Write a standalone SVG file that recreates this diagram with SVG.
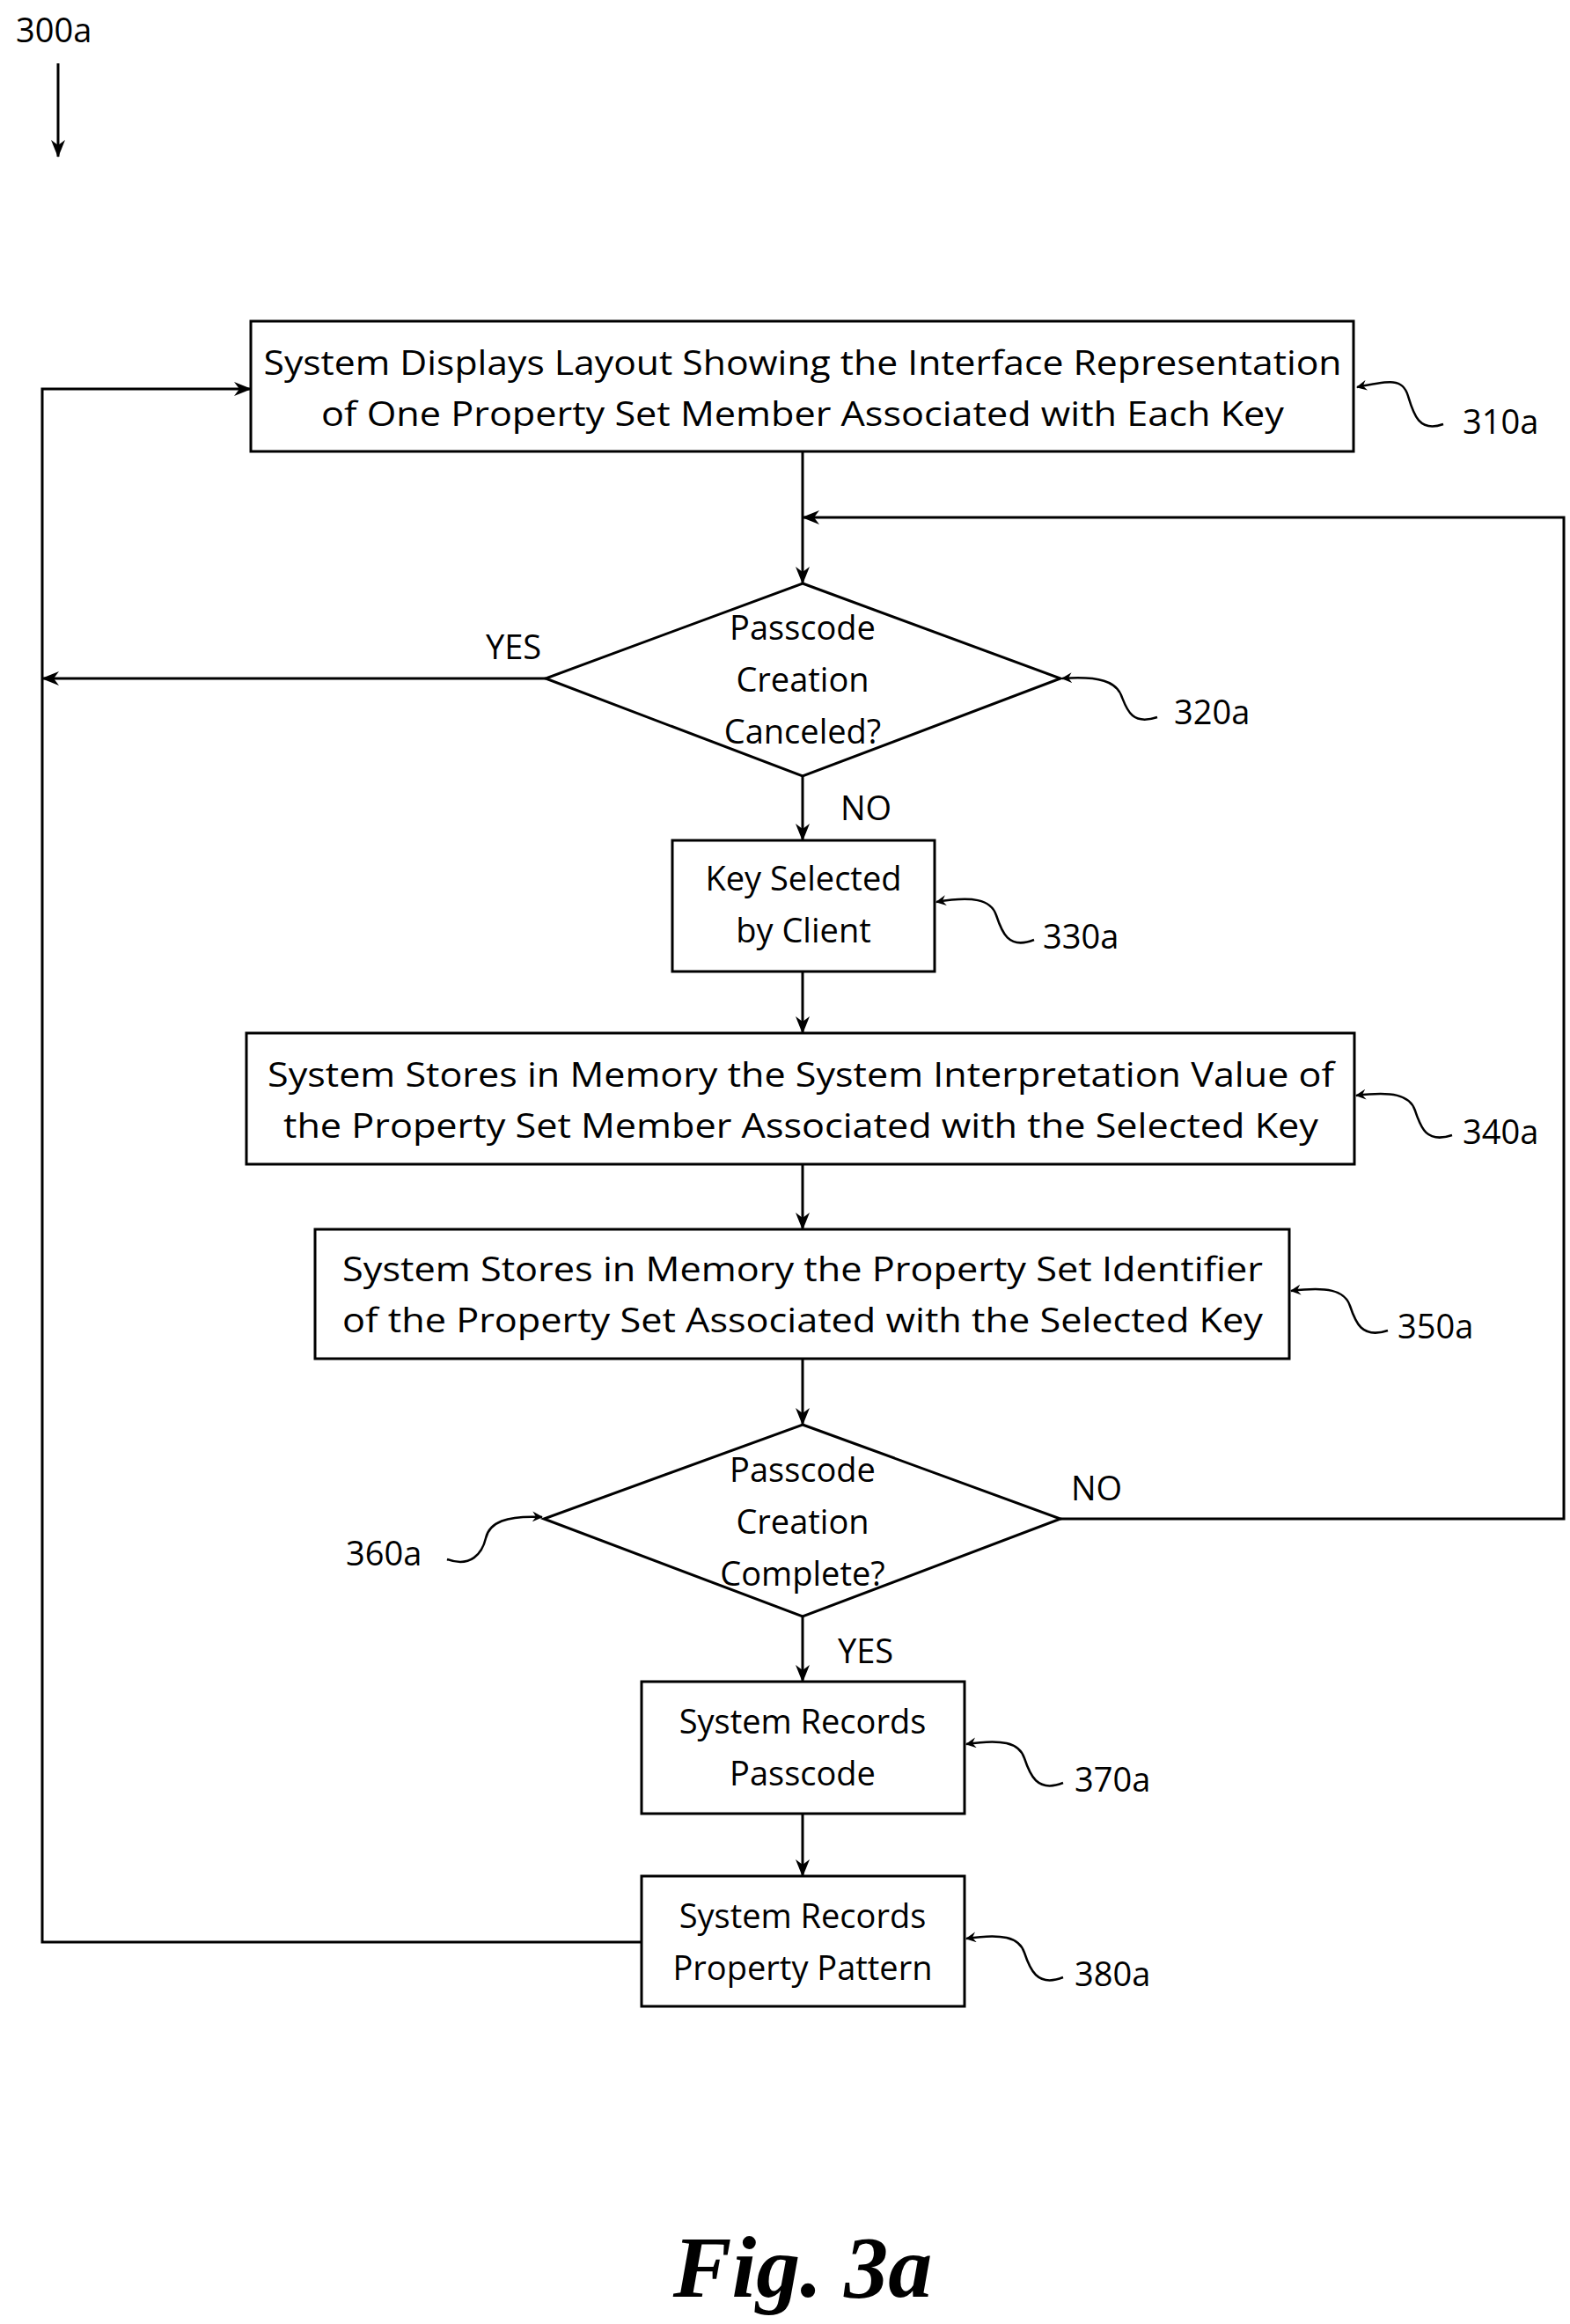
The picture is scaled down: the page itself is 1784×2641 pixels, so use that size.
<svg xmlns="http://www.w3.org/2000/svg" width="1784" height="2641" viewBox="0 0 1784 2641">
<style>
.b{fill:#fff;stroke:#000;stroke-width:3}
.t{font-family:"Open Sans","Liberation Sans",sans-serif;font-size:38px;text-anchor:middle;fill:#000}
.l{font-family:"Open Sans","Liberation Sans",sans-serif;font-size:38px;fill:#000}
.c{fill:none;stroke:#000;stroke-width:3}
.q{fill:none;stroke:#000;stroke-width:2.5}
</style>
<defs>
<marker id="a" markerWidth="12" markerHeight="12" refX="11" refY="6" orient="auto" markerUnits="userSpaceOnUse" viewBox="0 0 12 12">
<path d="M0,0 L12,6 L0,12 L4,6 Z" fill="#000"/>
</marker>
<marker id="s" markerWidth="20" markerHeight="20" refX="19" refY="10" orient="auto" markerUnits="userSpaceOnUse" viewBox="0 0 20 20">
<path d="M0,2 L20,10 L0,18 L6,10 Z" fill="#000"/>
</marker>
</defs>
<text class="l" x="18" y="48">300a</text>
<line class="c" x1="66" y1="72" x2="66" y2="178" marker-end="url(#s)"/>
<g id="connectors">
<line class="c" x1="912" y1="513" x2="912" y2="663" marker-end="url(#s)"/>
<polyline class="c" points="1205,1726 1777,1726 1777,588 912,588" marker-end="url(#s)"/>
<line class="c" x1="620" y1="771" x2="48" y2="771" marker-end="url(#s)"/>
<polyline class="c" points="729,2207 48,2207 48,442 285,442" marker-end="url(#s)"/>
<line class="c" x1="912" y1="882" x2="912" y2="955" marker-end="url(#s)"/>
<line class="c" x1="912" y1="1104" x2="912" y2="1174" marker-end="url(#s)"/>
<line class="c" x1="912" y1="1323" x2="912" y2="1397" marker-end="url(#s)"/>
<line class="c" x1="912" y1="1544" x2="912" y2="1619" marker-end="url(#s)"/>
<line class="c" x1="912" y1="1837" x2="912" y2="1911" marker-end="url(#s)"/>
<line class="c" x1="912" y1="2061" x2="912" y2="2132" marker-end="url(#s)"/>
<text class="l" x="552" y="749">YES</text>
<text class="l" x="955" y="932">NO</text>
<text class="l" x="1217" y="1705">NO</text>
<text class="l" x="952" y="1890">YES</text>
</g>
<g id="n310a">
<rect class="b" x="285" y="365" width="1253" height="148"/>
<text class="t" x="912" y="426" textLength="1225" lengthAdjust="spacingAndGlyphs">System Displays Layout Showing the Interface Representation</text>
<text class="t" x="912" y="484" textLength="1094" lengthAdjust="spacingAndGlyphs">of One Property Set Member Associated with Each Key</text>
<path class="q" d="M1640,482 C1612,492 1606,470 1600,450 C1594,430 1580,432 1542,440" marker-end="url(#a)"/>
<text class="l" x="1662" y="493">310a</text>
</g>
<g id="n320a">
<polygon class="b" points="912,663 1205,771 912,882 620,771"/>
<text class="t" x="912" y="727">Passcode</text>
<text class="t" x="912" y="786">Creation</text>
<text class="t" x="912" y="845">Canceled?</text>
<path class="q" d="M1315,815 C1285,825 1280,805 1274,790 C1268,775 1250,768 1207,771" marker-end="url(#a)"/>
<text class="l" x="1334" y="823">320a</text>
</g>
<g id="n330a">
<rect class="b" x="764" y="955" width="298" height="149"/>
<text class="t" x="913" y="1012">Key Selected</text>
<text class="t" x="913" y="1071">by Client</text>
<path class="q" d="M1175,1068 C1145,1080 1138,1058 1132,1040 C1126,1022 1105,1018 1064,1025" marker-end="url(#a)"/>
<text class="l" x="1185" y="1078">330a</text>
</g>
<g id="n340a">
<rect class="b" x="280" y="1174" width="1259" height="149"/>
<text class="t" x="910" y="1235" textLength="1212" lengthAdjust="spacingAndGlyphs">System Stores in Memory the System Interpretation Value of</text>
<text class="t" x="910" y="1293" textLength="1176" lengthAdjust="spacingAndGlyphs">the Property Set Member Associated with the Selected Key</text>
<path class="q" d="M1650,1290 C1620,1300 1614,1280 1608,1262 C1602,1244 1582,1240 1541,1245" marker-end="url(#a)"/>
<text class="l" x="1662" y="1300">340a</text>
</g>
<g id="n350a">
<rect class="b" x="358" y="1397" width="1107" height="147"/>
<text class="t" x="912" y="1456" textLength="1046" lengthAdjust="spacingAndGlyphs">System Stores in Memory the Property Set Identifier</text>
<text class="t" x="912" y="1514" textLength="1046" lengthAdjust="spacingAndGlyphs">of the Property Set Associated with the Selected Key</text>
<path class="q" d="M1577,1512 C1547,1522 1540,1502 1534,1484 C1528,1466 1508,1462 1467,1467" marker-end="url(#a)"/>
<text class="l" x="1588" y="1521">350a</text>
</g>
<g id="n360a">
<polygon class="b" points="912,1619 1205,1726 912,1837 618,1726"/>
<text class="t" x="912" y="1684">Passcode</text>
<text class="t" x="912" y="1743">Creation</text>
<text class="t" x="912" y="1802">Complete?</text>
<path class="q" d="M508,1772 C535,1782 548,1765 552,1748 C556,1730 575,1722 616,1724" marker-end="url(#a)"/>
<text class="l" x="393" y="1779">360a</text>
</g>
<g id="n370a">
<rect class="b" x="729" y="1911" width="367" height="150"/>
<text class="t" x="912" y="1970">System Records</text>
<text class="t" x="912" y="2029">Passcode</text>
<path class="q" d="M1208,2026 C1178,2038 1170,2016 1164,1998 C1158,1980 1138,1976 1098,1982" marker-end="url(#a)"/>
<text class="l" x="1221" y="2036">370a</text>
</g>
<g id="n380a">
<rect class="b" x="729" y="2132" width="367" height="148"/>
<text class="t" x="912" y="2191">System Records</text>
<text class="t" x="912" y="2250">Property Pattern</text>
<path class="q" d="M1208,2247 C1178,2259 1170,2237 1164,2219 C1158,2201 1138,2197 1098,2203" marker-end="url(#a)"/>
<text class="l" x="1221" y="2257">380a</text>
</g>
<text x="912" y="2610" font-family="'Liberation Serif',serif" font-size="100" font-style="italic" font-weight="bold" text-anchor="middle">Fig. 3a</text>
</svg>
